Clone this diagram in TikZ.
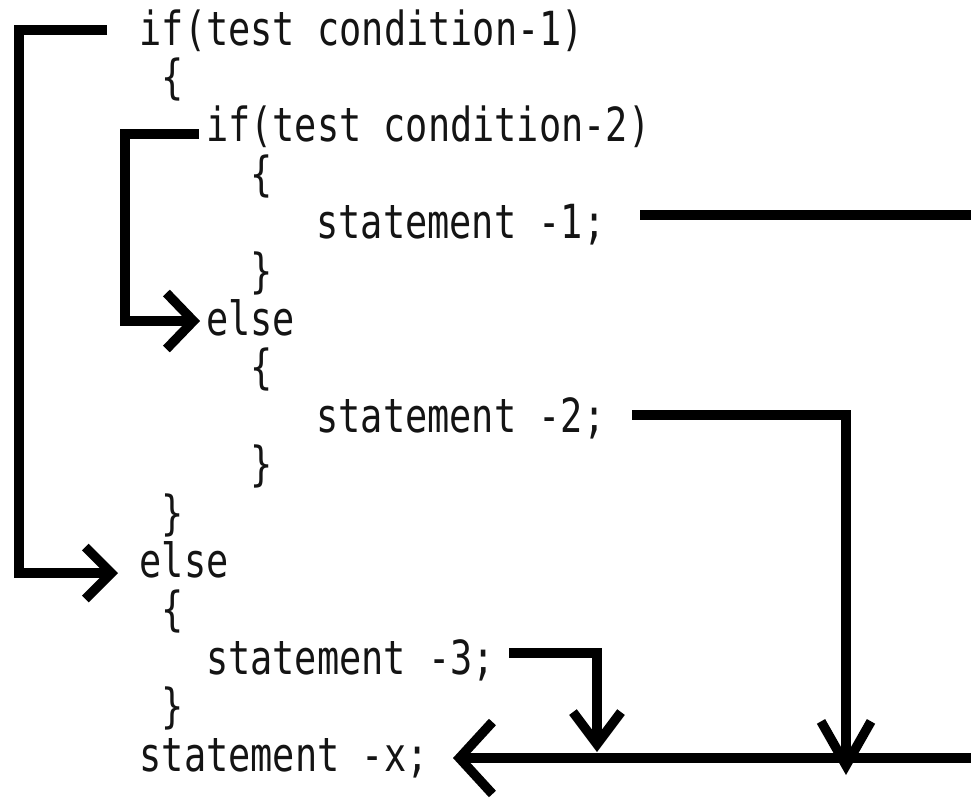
\documentclass[tikz,border=0pt]{standalone}
\usepackage{fontspec}
\newfontfamily\codefont{DejaVu Sans Mono}[FakeStretch=0.785]
\usetikzlibrary{arrows.meta}

\begin{document}
\begin{tikzpicture}[x=1pt,y=-1pt,
  code/.style={anchor=base west, inner sep=0pt,
    font=\codefont\fontsize{47}{47}\selectfont, text=black!92},
  flow/.style={line width=9.5pt, line cap=butt, line join=miter, draw=black},
]
\useasboundingbox (0,0) rectangle (971,801);
\fill[white] (0,0) rectangle (971,801);

% code lines: column pitch 22.1, line pitch 48.4
\node[code] (l0)  at (139.5,45)    {if(test condition-1)};
\node[code] (l1)  at (161.6,93.4)  {\{};
\node[code] (l2)  at (205.8,141.8) {if(test condition-2)};
\node[code] (l3)  at (250.0,190.2) {\{};
\node[code] (l4)  at (316.3,238.6) {statement -1;};
\node[code] (l5)  at (250.0,287.0) {\}};
\node[code] (l6)  at (205.8,335.4) {else};
\node[code] (l7)  at (250.0,383.8) {\{};
\node[code] (l8)  at (316.3,432.2) {statement -2;};
\node[code] (l9)  at (250.0,480.6) {\}};
\node[code] (l10) at (161.6,529.0) {\}};
\node[code] (l11) at (139.5,577.4) {else};
\node[code] (l12) at (161.6,625.8) {\{};
\node[code] (l13) at (205.8,674.2) {statement -3;};
\node[code] (l14) at (161.6,722.6) {\}};
\node[code] (l15) at (139.5,771.0) {statement -x;};

% branch and jump connectors
\coordinate (outerS) at (107,30);
\coordinate (outerT) at (118,573);
\coordinate (innerS) at (199,134);
\coordinate (innerT) at (200,321);
\coordinate (s1S)    at (640,215);
\coordinate (s1E)    at (971,215);
\coordinate (s2S)    at (632,415);
\coordinate (s2T)    at (846,775);
\coordinate (s3S)    at (509,653);
\coordinate (s3T)    at (597,752);
\coordinate (joinS)  at (971,758);
\coordinate (joinT)  at (453,758);

\draw[flow, -{Straight Barb[length=26pt,width=52pt]}] (outerS) -- ++(-88,0) |- (outerT);
\draw[flow, -{Straight Barb[length=27pt,width=56pt]}] (innerS) -- ++(-74,0) |- (innerT);
\draw[flow] (s1S) -- (s1E);
\draw[flow, -{Straight Barb[length=44pt,width=50pt]}] (s2S) -| (s2T);
\draw[flow, -{Straight Barb[length=32pt,width=48pt]}] (s3S) -| (s3T);
\draw[flow, -{Straight Barb[length=33pt,width=72pt]}] (joinS) -- (joinT);
\end{tikzpicture}
\end{document}
